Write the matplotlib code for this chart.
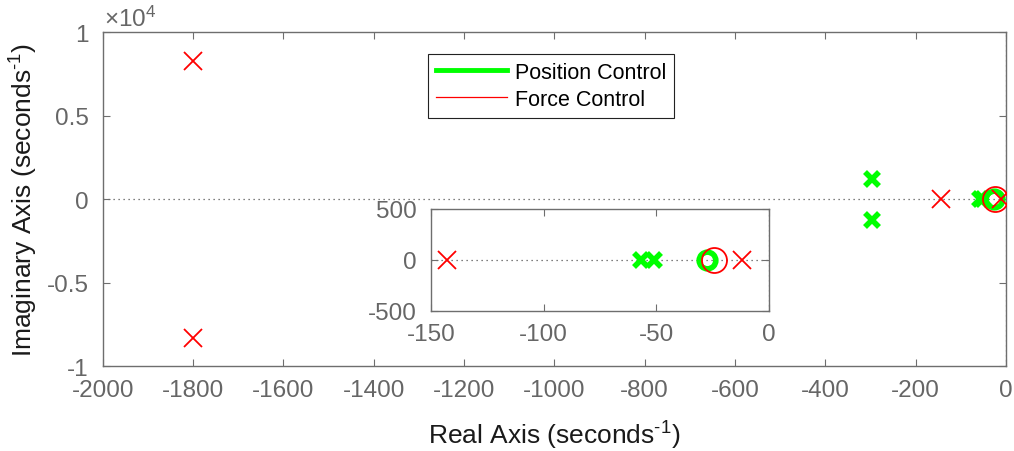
import matplotlib
matplotlib.use("Agg")
import matplotlib.pyplot as plt
from matplotlib.lines import Line2D
import numpy as np

plt.rcParams['font.family'] = ['Liberation Sans', 'DejaVu Sans']
plt.rcParams['mathtext.fontset'] = 'custom'
plt.rcParams['mathtext.rm'] = 'Liberation Sans'
plt.rcParams['mathtext.it'] = 'Liberation Sans:italic'

# pole / zero locations (seconds^-1)
pos_poles_re = [-296, -296, -57, -51]
pos_poles_im = [1230, -1230, 0, 0]
pos_zeros_re = [-27.6]
pos_zeros_im = [0]

frc_poles_re = [-1800, -1800, -143, -12]
frc_poles_im = [8300, -8300, 0, 0]
frc_zeros_re = [-24.3]
frc_zeros_im = [0]

main_yticks = [-1e4, -5e3, 0, 5e3, 1e4]
main_ylabels = ['-1', '-0.5', '0', '0.5', '1']
main_xticks = list(range(-2000, 1, 200))
inset_xticks = [-150, -100, -50, 0]
inset_yticks = [-500, 0, 500]

green = '#00ff00'
red = '#ff0000'
axcol = '#6e6e6e'
tickcol = '#666666'
fs = 17.5
lfs = 19


def style(ax):
    for s in ax.spines.values():
        s.set_color(axcol)
        s.set_linewidth(1.0)
    ax.tick_params(direction='in', top=True, right=True, length=5,
                   color=axcol, labelcolor=tickcol, labelsize=fs)
    ax.tick_params(axis='x', pad=9)
    ax.tick_params(axis='y', pad=10)


def draw(ax):
    ax.axhline(0, color='#555555', ls=(0, (1, 3)), lw=0.9, zorder=1)
    ax.axvline(0, color='#555555', ls=(0, (1, 3)), lw=0.9, zorder=1)
    ax.plot(pos_poles_re, pos_poles_im, 'x', color=green, ms=10, mew=4, zorder=3)
    ax.plot(pos_zeros_re, pos_zeros_im, 'o', color=green, mfc='none', ms=12, mew=4, zorder=3)
    ax.plot(frc_poles_re, frc_poles_im, 'x', color=red, ms=13, mew=1.3, zorder=4)
    ax.plot(frc_zeros_re, frc_zeros_im, 'o', color=red, mfc='none', ms=18, mew=1.3, zorder=4)


fig = plt.figure(figsize=(10.14, 4.52), dpi=100)
ax = fig.add_axes([102.7 / 1014, 1 - 367.3 / 452, (1006 - 102.7) / 1014, (367.3 - 33.3) / 452])
draw(ax)
ax.set_xlim(-2000, 0)
ax.set_ylim(-1e4, 1e4)
ax.set_xticks(main_xticks)
ax.set_xticklabels([str(v) for v in main_xticks])
ax.set_yticks(main_yticks)
ax.set_yticklabels(main_ylabels)
style(ax)
ax.set_xlabel(r'Real Axis (seconds$^{\text{-1}}$)', fontsize=lfs, color='#1a1a1a', labelpad=13)
ax.set_ylabel(r'Imaginary Axis (seconds$^{\text{-1}}$)', fontsize=lfs, color='#1a1a1a', labelpad=5)
fig.text(104 / 1014, 1 - 19 / 452, r'$\times$10$^4$', fontsize=fs, color=tickcol, va='center', ha='left')

ins = fig.add_axes([431 / 1014, 1 - 312 / 452, 338 / 1014, 102 / 452])
draw(ins)
ins.set_xlim(-150, 0)
ins.set_ylim(-500, 500)
ins.set_xticks(inset_xticks)
ins.set_xticklabels([str(v) for v in inset_xticks])
ins.set_yticks(inset_yticks)
ins.set_yticklabels([str(v) for v in inset_yticks])
style(ins)

handles = [Line2D([], [], color=green, lw=3.5), Line2D([], [], color=red, lw=0.9)]
leg = fig.legend(handles, ['Position Control', 'Force Control'], loc='upper left',
                 bbox_to_anchor=(428 / 1014, 1 - 55 / 452), fontsize=15.5,
                 frameon=True, fancybox=False, edgecolor='#222222', framealpha=1,
                 handlelength=3.3, borderpad=0.35, labelspacing=0.3, handletextpad=0.4,
                 borderaxespad=0)
leg.get_frame().set_linewidth(0.8)

fig.savefig('out.png', dpi=100)
